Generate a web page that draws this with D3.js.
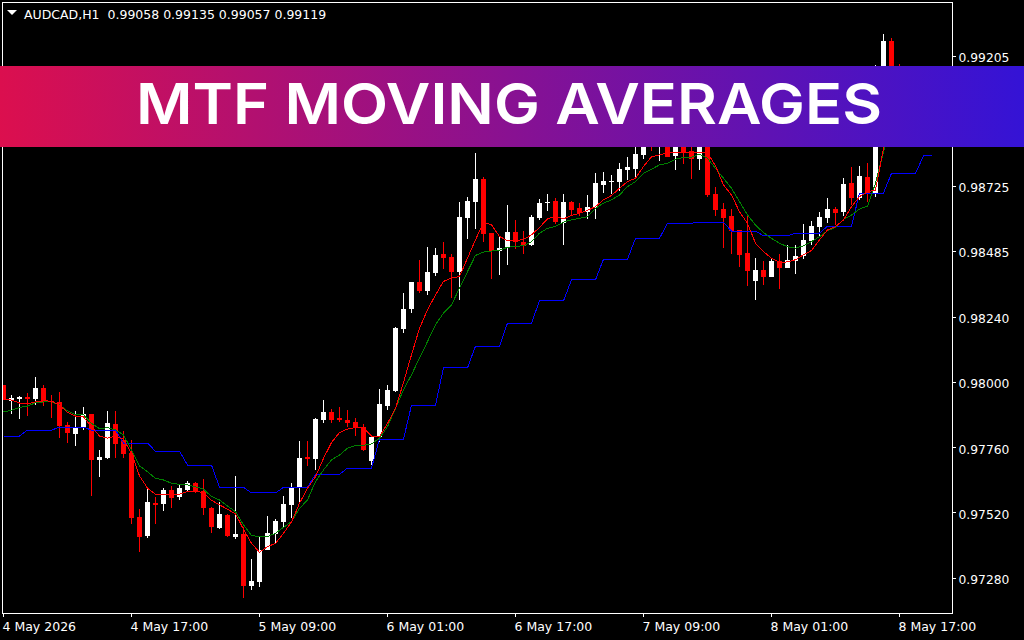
<!DOCTYPE html>
<html>
<head>
<meta charset="utf-8">
<script src="https://cdn.jsdelivr.net/npm/d3@7"></script>
<style>
	html, body { margin:0; padding:0; background:#000; overflow:hidden; }
	text { font-family:"DejaVu Sans", sans-serif; }
</style>
</head>
<body>
<svg id="chart" width="1024" height="640"></svg>
<script>

//prices are kept in points (1 point = 0.00001), one entry per H1 bar
var opens = [
	97991,97933,97938,97946,97939,97980,97932,97928,97843,97810,
	97836,97884,97714,97721,97847,97788,97740,97503,97433,97555,
	97551,97603,97577,97603,97629,97599,97537,97463,97511,97430,
	97441,97249,97264,97382,97441,97485,97548,97614,97725,97718,
	97861,97891,97869,97861,97854,97836,97710,97799,97913,97968,
	98198,98272,98371,98338,98405,98475,98464,98408,98608,98667,
	98752,98552,98486,98497,98556,98519,98508,98608,98663,98670,
	98589,98667,98644,98630,98644,98729,98742,98740,98784,98788,
	98840,98920,98880,98930,98836,98900,98854,98825,98900,98696,
	98640,98614,98563,98478,98375,98415,98389,98448,98423,98448,
	98467,98522,98574,98607,98640,98629,98736,98681,98758,98699,
	99146,99261,99130
];
var highs = [
	97991,97954,97950,97960,98020,97991,97954,97965,97854,97895,
	97909,97884,97751,97895,97895,97821,97788,97533,97610,97577,
	97610,97618,97622,97636,97633,97644,97540,97559,97515,97655,
	97468,97348,97433,97507,97496,97581,97629,97784,97784,97869,
	97935,97902,97909,97898,97869,97847,97806,97976,97991,98205,
	98331,98371,98453,98501,98497,98519,98475,98667,98685,98847,
	98759,98552,98537,98656,98600,98560,98619,98678,98696,98681,
	98696,98670,98663,98692,98774,98777,98766,98811,98832,98870,
	98900,98940,98960,98960,98930,98930,98900,98920,98930,98722,
	98662,98640,98563,98618,98459,98448,98456,98474,98507,98507,
	98585,98596,98629,98681,98648,98755,98795,98799,98810,99172,
	99287,99272,99176
];
var lows = [
	97935,97884,97865,97876,97917,97913,97869,97795,97777,97765,
	97825,97581,97651,97718,97721,97721,97478,97374,97426,97478,
	97526,97537,97566,97596,97592,97511,97444,97459,97430,97422,
	97204,97234,97245,97382,97406,97463,97500,97555,97692,97677,
	97850,97850,97854,97836,97802,97747,97695,97780,97898,97965,
	98183,98257,98331,98323,98393,98419,98312,98305,98530,98567,
	98519,98382,98397,98434,98493,98475,98504,98600,98633,98585,
	98508,98615,98615,98604,98604,98700,98696,98707,98747,98755,
	98825,98854,98817,98832,98784,98806,98751,98784,98685,98614,
	98496,98474,98426,98356,98304,98360,98389,98345,98423,98400,
	98456,98507,98537,98589,98581,98614,98655,98674,98666,98685,
	99120,99000,99050
];
var closes = [
	97935,97943,97946,97939,97980,97928,97928,97839,97813,97836,
	97884,97714,97725,97850,97773,97736,97500,97430,97559,97548,
	97603,97574,97610,97629,97596,97537,97467,97515,97433,97441,
	97249,97267,97382,97444,97489,97551,97610,97721,97718,97865,
	97891,97861,97861,97850,97836,97751,97799,97921,97972,98202,
	98272,98371,98338,98408,98471,98460,98408,98611,98670,98752,
	98549,98486,98497,98556,98519,98504,98611,98663,98667,98593,
	98667,98637,98626,98648,98737,98744,98744,98788,98795,98843,
	98880,98880,98930,98832,98900,98851,98825,98868,98692,98637,
	98607,98559,98471,98411,98415,98389,98448,98423,98452,98467,
	98526,98578,98611,98640,98626,98733,98681,98762,98699,99146,
	99261,99043,99090
];

//the three moving averages
var maFast = [
	97938,97935,97924,97921,97928,97933,97930,97916,97890,97876,
	97873,97837,97802,97794,97802,97790,97738,97655,97610,97587,
	97586,97585,97588,97597,97599,97593,97565,97548,97532,97515,
	97458,97406,97373,97394,97406,97443,97485,97554,97609,97652,
	97720,97778,97815,97828,97834,97831,97802,97800,97849,97904,
	98000,98102,98200,98268,98323,98373,98385,98391,98459,98526,
	98592,98582,98539,98523,98523,98528,98545,98572,98604,98614,
	98604,98616,98625,98635,98649,98674,98690,98717,98741,98754,
	98797,98833,98840,98848,98849,98848,98848,98848,98848,98799,
	98729,98692,98630,98587,98514,98483,98458,98443,98445,98453,
	98471,98487,98526,98563,98575,98600,98649,98686,98704,98710,
	98864,98969,99020
];
var maSlow = [
	97891,97898,97908,97913,97925,97928,97928,97917,97895,97881,
	97881,97849,97829,97833,97825,97806,97751,97692,97670,97646,
	97640,97628,97624,97622,97615,97606,97579,97566,97544,97523,
	97474,97435,97431,97431,97443,97465,97486,97535,97566,97634,
	97677,97714,97732,97757,97767,97768,97773,97794,97837,97904,
	97973,98028,98090,98151,98213,98256,98286,98348,98409,98469,
	98481,98485,98488,98499,98502,98505,98520,98551,98569,98576,
	98592,98600,98606,98612,98643,98662,98674,98692,98723,98741,
	98772,98787,98803,98809,98824,98831,98831,98843,98827,98790,
	98754,98717,98667,98618,98581,98553,98532,98514,98501,98496,
	98504,98520,98538,98560,98573,98602,98618,98640,98651,98735,
	98852,98950,99000
];
var maH4 = [
	97802,97802,97802,
	97824,97824,97824,97824,
	97835,97835,97835,97835,
	97824,97824,97824,97824,
	97776,97776,97776,97776,
	97746,97746,97746,97746,
	97695,97695,97695,97695,
	97613,97613,97613,97613,
	97592,97592,97592,97592,
	97613,97613,97613,97613,
	97661,97661,97661,97661,
	97684,97684,97684,97684,
	97791,97791,97791,97791,
	97916,97916,97916,97916,
	98054,98054,98054,98054,
	98134,98134,98134,98134,
	98219,98219,98219,98219,
	98301,98301,98301,98301,
	98379,98379,98379,98379,
	98455,98455,98455,98455,
	98532,98532,98532,98532,
	98588,98588,98588,98588,
	98591,98591,98591,98591,
	98559,98559,98559,98559,
	98541,98541,98541,98541,
	98551,98551,98551,98551,
	98577,98577,98577,98577,
	98699,98699,98699,98699,
	98772,98772,98772,98772,
	98836,98836
];

//axis labels
var priceTicks = [0.99205,0.98965,0.98725,0.98485,0.98240,0.98000,0.97760,0.97520,0.97280];
var timeTicks = [0,16,32,48,64,80,96,112];
var timeLabels = ["4 May 2026","4 May 17:00","5 May 09:00","6 May 01:00","6 May 17:00","7 May 09:00","8 May 01:00","8 May 17:00"];
var headerText = "AUDCAD,H1  0.99058 0.99135 0.99057 0.99119";
var bannerText = "MTF MOVING AVERAGES";

var svg = d3.select("#chart");

//plot area and scales
var plot = {left:2.5, right:952.5, top:2.5, bottom:613.5};
var x = d3.scaleLinear().domain([0,116]).range([3,931]);
var y = d3.scaleLinear().domain([0.97280,0.99205]).range([577.5,56]);
function py(points){
	return y(points*0.00001);
}

svg.append("defs").append("clipPath").attr("id","plotClip")
	.append("rect")
	.attr("x",plot.left+0.5)
	.attr("y",plot.top+0.5)
	.attr("width",plot.right-plot.left-0.5)
	.attr("height",plot.bottom-plot.top-0.5);

var bannerGrad = svg.select("defs").append("linearGradient")
	.attr("id","bannerGrad")
	.attr("gradientUnits","userSpaceOnUse")
	.attr("x1",0).attr("y1",147)
	.attr("x2",1024).attr("y2",66);
bannerGrad.append("stop").attr("offset",0).attr("stop-color","#dc0f4e");
bannerGrad.append("stop").attr("offset",1).attr("stop-color","#3413d6");

var chart = svg.append("g").attr("clip-path","url(#plotClip)").attr("shape-rendering","crispEdges");

//candles
var bars = d3.range(opens.length);
var candles = chart.selectAll("g.candle").data(bars).enter().append("g").attr("class","candle");
function candleColor(i){
	return closes[i] >= opens[i] ? "#fff" : "#f00";
}
candles.append("rect")
	.attr("x",function(i){ return x(i); })
	.attr("width",1)
	.attr("y",function(i){ return Math.round(py(highs[i])); })
	.attr("height",function(i){ return Math.max(1,Math.round(py(lows[i]))-Math.round(py(highs[i]))); })
	.attr("fill",candleColor);
candles.append("rect")
	.attr("x",function(i){ return x(i)-2; })
	.attr("width",5)
	.attr("y",function(i){ return Math.round(py(Math.max(opens[i],closes[i]))); })
	.attr("height",function(i){ return Math.max(1,Math.round(py(Math.min(opens[i],closes[i])))-Math.round(py(Math.max(opens[i],closes[i])))); })
	.attr("fill",candleColor);

//moving averages
function drawMA(values,color){
	var line = d3.line()
		.x(function(d,i){ return x(i)+0.5; })
		.y(function(d){ return py(d); });
	chart.append("path")
		.datum(values)
		.attr("d",line)
		.attr("fill","none")
		.attr("stroke",color)
		.attr("stroke-width",1);
}
drawMA(maH4,"#0000ff");
drawMA(maSlow,"#008000");
drawMA(maFast,"#ff0000");

//axes, the domain lines make the frame
var rightAxis = d3.axisRight(y)
	.tickValues(priceTicks)
	.tickFormat(d3.format(".5f"))
	.tickSize(3)
	.tickPadding(3);
var bottomAxis = d3.axisBottom(x)
	.tickValues(timeTicks)
	.tickFormat(function(d,i){ return timeLabels[i]; })
	.tickSize(3)
	.tickSizeOuter(0)
	.tickPadding(6);

var ra = svg.append("g").attr("transform","translate("+plot.right+",0)").call(rightAxis);
ra.select(".domain").remove();
ra.selectAll("line").attr("stroke","#fff").attr("shape-rendering","crispEdges");
ra.selectAll("text").attr("fill","#fff").attr("font-size",12.3).attr("font-family","DejaVu Sans").attr("dy","0.45em");

var ba = svg.append("g").attr("transform","translate(0,"+plot.bottom+")").call(bottomAxis);
ba.select(".domain").remove();
ba.selectAll("line").attr("stroke","#fff").attr("shape-rendering","crispEdges");
ba.selectAll("text").attr("fill","#fff").attr("font-size",12.5).attr("font-family","DejaVu Sans")
	.attr("text-anchor","start").attr("dx",-1);

svg.append("rect")
	.attr("x",plot.left).attr("y",plot.top)
	.attr("width",plot.right-plot.left).attr("height",plot.bottom-plot.top)
	.attr("fill","none").attr("stroke","#fff").attr("shape-rendering","crispEdges");

//header with the little triangle
svg.append("path").attr("d","M7,10L17,10L12,15Z").attr("fill","#fff");
svg.append("text")
	.attr("x",24).attr("y",19)
	.attr("fill","#fff").attr("font-size",12.5)
	.attr("xml:space","preserve").style("white-space","pre")
	.text(headerText);

//title banner
svg.append("rect")
	.attr("x",0).attr("y",66).attr("width",1024).attr("height",81)
	.attr("fill","url(#bannerGrad)");
svg.append("text")
	.attr("x",136).attr("y",124)
	.attr("fill","#fff")
	.attr("font-size",57).attr("font-weight",600)
	.style("font-family","Inter, sans-serif")
	.attr("textLength",746).attr("lengthAdjust","spacingAndGlyphs")
	.text(bannerText);

</script>
</body>
</html>
